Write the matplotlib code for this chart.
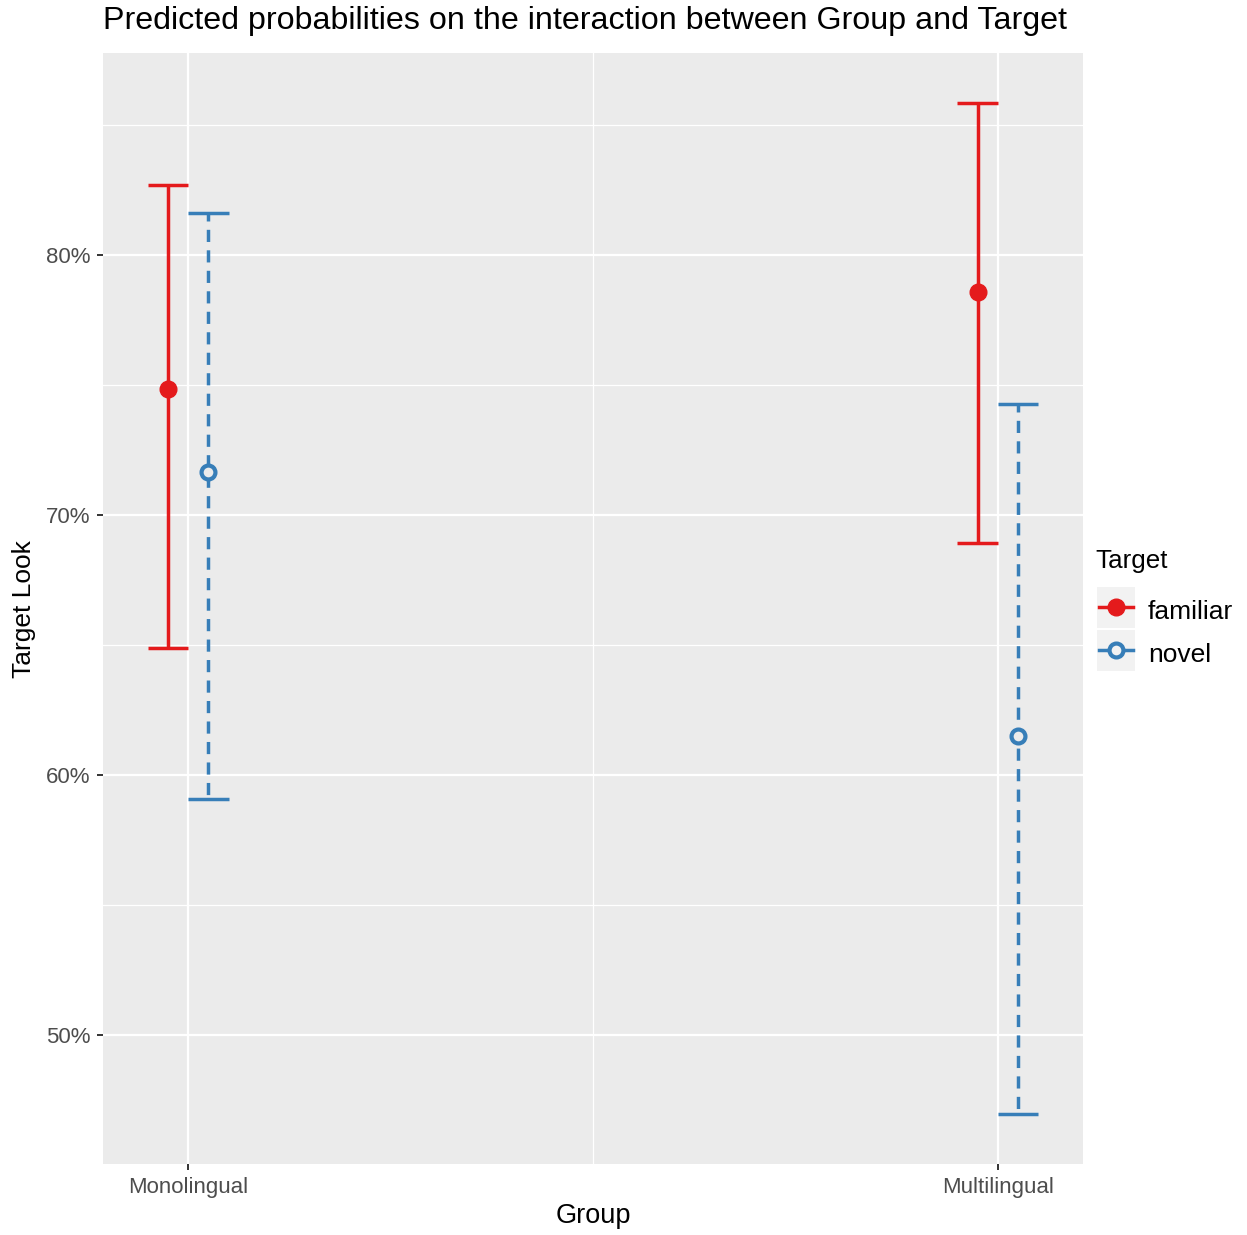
import matplotlib.pyplot as plt
from matplotlib.lines import Line2D
from matplotlib.patches import Rectangle
from matplotlib.ticker import FuncFormatter, MultipleLocator, FixedLocator

plt.rcParams['font.family'] = ['Liberation Sans', 'DejaVu Sans']

# data
groups = ['Monolingual', 'Multilingual']
targets = ['familiar', 'novel']
fam_mid = [0.7485, 0.7858]
fam_low = [0.6488, 0.6892]
fam_high = [0.8269, 0.8585]
nov_mid = [0.7165, 0.6150]
nov_low = [0.5908, 0.4696]
nov_high = [0.8160, 0.7427]

red = '#E41A1C'
blue = '#377EB8'
dodge = 0.025
cap = 0.025
lw = 2.5

fig = plt.figure(figsize=(12.47, 12.35), dpi=100)
ax = fig.add_axes([103/1247, 1-1164/1235, 980/1247, 1111/1235])
ax.set_facecolor('#EBEBEB')

xs = [1, 2]
for i, x in enumerate(xs):
    xf = x - dodge
    ax.plot([xf, xf], [fam_high[i], fam_low[i]], color=red, lw=lw, solid_capstyle='butt')
    ax.plot([xf - cap, xf + cap], [fam_high[i]] * 2, color=red, lw=lw, solid_capstyle='butt')
    ax.plot([xf - cap, xf + cap], [fam_low[i]] * 2, color=red, lw=lw, solid_capstyle='butt')
    ax.plot(xf, fam_mid[i], 'o', color=red, ms=12, zorder=5)

    xn = x + dodge
    ax.plot([xn, xn], [nov_high[i], nov_low[i]], color=blue, lw=lw,
            linestyle=(1.2, (3.5, 2.4)), dash_capstyle='butt')
    ax.plot([xn - cap, xn + cap], [nov_high[i]] * 2, color=blue, lw=lw, solid_capstyle='butt')
    ax.plot([xn - cap, xn + cap], [nov_low[i]] * 2, color=blue, lw=lw, solid_capstyle='butt')
    ax.plot(xn, nov_mid[i], 'o', mfc='#EBEBEB', mec=blue, mew=3, ms=10, zorder=5)

ax.set_xlim(0.895, 2.105)
ax.set_ylim(0.4504, 0.8777)
ax.set_xticks(xs)
ax.set_xticklabels(groups)
ax.xaxis.set_minor_locator(FixedLocator([1.5]))
ax.yaxis.set_major_locator(MultipleLocator(0.1))
ax.yaxis.set_minor_locator(FixedLocator([0.55, 0.65, 0.75, 0.85]))
ax.yaxis.set_major_formatter(FuncFormatter(lambda v, p: f'{v*100:.0f}%'))
ax.grid(which='major', color='white', lw=1.6)
ax.grid(which='minor', color='white', lw=0.9)
ax.set_axisbelow(True)
for s in ax.spines.values():
    s.set_visible(False)
ax.tick_params(which='major', length=4, width=1.4, color='#333333',
               labelcolor='#4D4D4D', labelsize=16, pad=5)
ax.tick_params(which='minor', length=0)

fig.text(103/1247, 1-21/1235, 'Predicted probabilities on the interaction between Group and Target',
         fontsize=23.2, ha='left', va='center', color='black')
fig.text(593/1247, 1-1216/1235, 'Group', fontsize=19.5, ha='center', va='center')
fig.text(24/1247, 1-609/1235, 'Target Look', fontsize=19, ha='center', va='center', rotation=90)

# legend
fig.text(1095/1247, 1-561/1235, 'Target', fontsize=18.7, ha='left', va='center')
for k, (lab, col) in enumerate(zip(targets, [red, blue])):
    yc = 607 + 43 * k
    fig.patches.append(Rectangle((1097/1247, 1-(yc+21)/1235), 38/1247, 41/1235,
                                 transform=fig.transFigure, facecolor='#F2F2F2', edgecolor='none'))
    fig.lines.append(Line2D([1099/1247, 1133/1247], [1-yc/1235]*2, transform=fig.transFigure,
                            color=col, lw=lw))
    if k == 0:
        fig.lines.append(Line2D([1116/1247], [1-yc/1235], transform=fig.transFigure,
                                marker='o', color=col, ms=12))
    else:
        fig.lines.append(Line2D([1116/1247], [1-yc/1235], transform=fig.transFigure,
                                marker='o', mfc='#F2F2F2', mec=col, mew=3, ms=10))
    fig.text(1148/1247, 1-(yc + 5)/1235, lab, fontsize=19, ha='left', va='center')

fig.savefig('out.png', dpi=100, facecolor='white')
